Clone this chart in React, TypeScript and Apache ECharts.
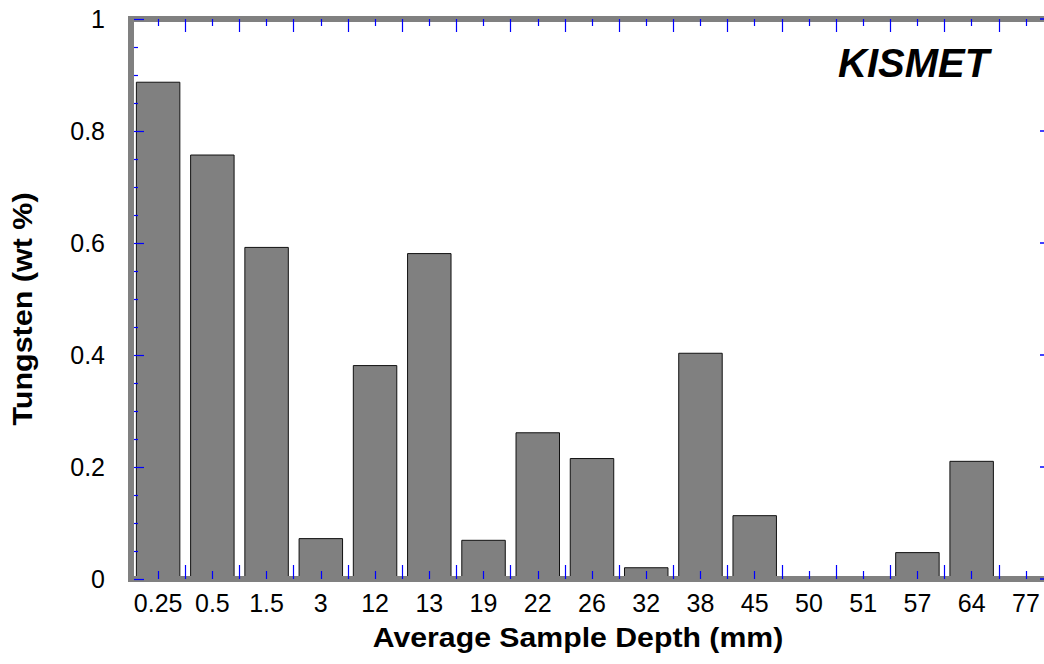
import React, { useEffect, useRef } from "react";
import * as echarts from "echarts";

const depthLabels = ["0.25", "0.5", "1.5", "3", "12", "13", "19", "22", "26", "32", "38", "45", "50", "51", "57", "64", "77"];
const tungstenValues = [0.888, 0.758, 0.593, 0.073, 0.382, 0.582, 0.070, 0.262, 0.216, 0.021, 0.404, 0.114, 0, 0, 0.048, 0.211, 0];
const yTicks = { min: 0, max: 1, interval: 0.2 };
const chartTitle = "KISMET";
const xTitle = "Average Sample Depth (mm)";
const yTitle = "Tungsten (wt %)";

const FONT = "'Liberation Sans', Arial, Helvetica, sans-serif";
const TICK = "#0000ff";
const FRAME = "#808080";

const tick = () => ({ color: TICK, width: 1.2, opacity: 1 });

export default function App() {
  const ref = useRef<HTMLDivElement>(null);
  useEffect(() => {
    if (!ref.current) return;
    const chart = echarts.init(ref.current, null, { renderer: "svg" });
    chart.setOption({
      animation: false,
      backgroundColor: "#ffffff",
      textStyle: { fontFamily: FONT },
      grid: { left: 131, top: 19, right: 0, bottom: 85, containLabel: false },
      xAxis: [
        {
          type: "category", data: depthLabels, position: "bottom", z: 5,
          axisLine: { show: true, onZero: false, lineStyle: { color: FRAME, width: 6, cap: "square" } },
          axisTick: { show: true, inside: true, length: 14, lineStyle: tick() },
          axisLabel: { show: true, color: "#000", fontSize: 25, fontFamily: FONT, margin: 11, interval: 0 },
          splitLine: { show: false },
        },
        {
          type: "category", data: depthLabels, position: "bottom", z: 5,
          axisLine: { show: false, onZero: false, lineStyle: { color: TICK } },
          axisTick: { show: true, inside: true, length: 8, alignWithLabel: true, lineStyle: tick() },
          axisLabel: { show: false },
          splitLine: { show: false },
        },
        {
          type: "category", data: depthLabels, position: "top", z: 5,
          axisLine: { show: true, onZero: false, lineStyle: { color: FRAME, width: 6, cap: "square" } },
          axisTick: { show: true, inside: true, length: 13, lineStyle: tick() },
          axisLabel: { show: false },
          splitLine: { show: false },
        },
        {
          type: "category", data: depthLabels, position: "top", z: 5,
          axisLine: { show: false, onZero: false, lineStyle: { color: TICK } },
          axisTick: { show: true, inside: true, length: 7, alignWithLabel: true, lineStyle: tick() },
          axisLabel: { show: false },
          splitLine: { show: false },
        },
      ],
      yAxis: [
        {
          type: "value", position: "left", min: yTicks.min, max: yTicks.max, interval: yTicks.interval, z: 5,
          axisLine: { show: false, onZero: false, lineStyle: { color: TICK } },
          axisTick: { show: true, inside: true, length: 13, lineStyle: tick() },
          minorTick: { show: true, splitNumber: 4, length: 7, lineStyle: tick() },
          axisLabel: { show: true, color: "#000", fontSize: 25, fontFamily: FONT, margin: 26 },
          splitLine: { show: false },
          minorSplitLine: { show: false },
        },
        {
          type: "value", position: "right", min: yTicks.min, max: yTicks.max, interval: yTicks.interval, z: 5,
          axisLine: { show: false, onZero: false, lineStyle: { color: TICK } },
          axisTick: { show: true, inside: true, length: 13, lineStyle: { color: TICK, width: 1.5 } },
          axisLabel: { show: false },
          splitLine: { show: false },
        },
        {
          type: "value", position: "left", min: yTicks.min, max: yTicks.max, interval: yTicks.interval, z: 6,
          axisLine: { show: true, onZero: false, lineStyle: { color: FRAME, width: 6, cap: "square" } },
          axisTick: { show: false },
          axisLabel: { show: false },
          splitLine: { show: false },
        },
      ],
      series: [
        {
          type: "bar", xAxisIndex: 0, yAxisIndex: 0, data: tungstenValues,
          barCategoryGap: "18%",
          itemStyle: { color: "#808080", borderColor: "#111111", borderWidth: 1 },
          z: 2,
        },
      ],
      graphic: [
        {
          type: "text", x: 838, y: 63, z: 10,
          style: { text: chartTitle, font: `italic bold 40px ${FONT}`, fill: "#000", align: "left", verticalAlign: "middle", textAlign: "left", textVerticalAlign: "middle" },
        },
        {
          type: "text", x: 578, y: 638, z: 10, scaleX: 1.12,
          style: { text: xTitle, font: `bold 27px ${FONT}`, fill: "#000", align: "center", verticalAlign: "middle", textAlign: "center", textVerticalAlign: "middle" },
        },
        {
          type: "text", x: 23, y: 309, rotation: Math.PI / 2, scaleX: 1.13, z: 10,
          style: { text: yTitle, font: `bold 27px ${FONT}`, fill: "#000", align: "center", verticalAlign: "middle", textAlign: "center", textVerticalAlign: "middle" },
        },
      ],
    });
    return () => chart.dispose();
  }, []);
  return (
    <div style={{ position: "fixed", left: 0, top: 0, width: 1044, height: 664, overflow: "hidden", background: "#fff" }}>
      <div ref={ref} style={{ width: 1053, height: 664 }} />
    </div>
  );
}
